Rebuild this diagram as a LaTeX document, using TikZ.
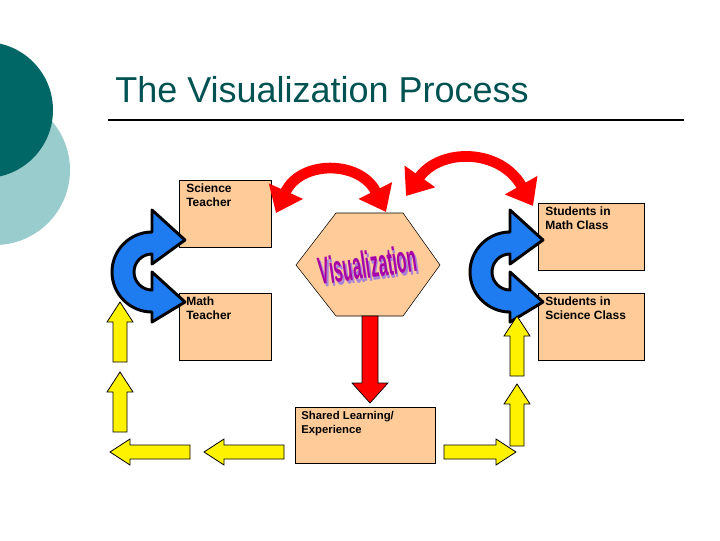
\documentclass[tikz,border=0pt]{standalone}
\usepackage{fontspec}
\setmainfont{Liberation Sans}
\usetikzlibrary{shapes.geometric,arrows.meta}
\definecolor{teal1}{HTML}{006666}
\definecolor{teal2}{HTML}{99CCCC}
\definecolor{boxc}{HTML}{FFCC99}
\definecolor{blu}{HTML}{1E7BF0}
\begin{document}
\begin{tikzpicture}[x=0.75pt,y=-0.75pt,
 box/.style={draw=black,fill=boxc,inner sep=0pt},
 lbl/.style={anchor=north west,align=left,font=\bfseries\fontsize{9}{10.5}\selectfont,inner sep=0pt},
 redarr/.style={draw=red,line width=8pt,{Triangle[width=27pt,length=18pt,fill=red]}-{Triangle[width=27pt,length=18pt,fill=red]}},
 bluearr/.style={draw=black,line width=2.2pt,fill=blu,line join=round},
 yar/.pic={\draw[fill=yellow,line width=0.6pt] (0,-7) -- (#1-20,-7) -- (#1-20,-13) -- (#1,0) -- (#1-20,13) -- (#1-20,7) -- (0,7) -- cycle;}]
\useasboundingbox (0,0) rectangle (720,540);
\fill[teal2] (-5,170) circle (75);
\fill[teal1] (-15,110) circle (68);
\node[anchor=west,font=\fontsize{27}{32}\selectfont,text=teal1!80!black,inner sep=0pt] (title) at (115,90) {The Visualization Process};
\draw[line width=1pt] (108,120) coordinate (l1) -- (684,120) coordinate (l2);
% boxes
\draw[box] (179,180) rectangle (271,247); \node[lbl] (st) at (186,184) {Science\\Teacher};
\draw[box] (179,293) rectangle (271,360); \node[lbl] (mt) at (186,297) {Math\\Teacher};
\draw[box] (538,203) rectangle (644,270); \node[lbl] (sm) at (545,207) {Students in\\Math Class};
\draw[box] (538,293) rectangle (644,360); \node[lbl] (ss) at (545,297) {Students in\\Science Class};
\draw[box] (295,407) rectangle (435,463); \node[lbl,font=\bfseries\fontsize{8.5}{10.5}\selectfont] (sl) at (301,411) {Shared Learning/\\Experience};
% hexagon
\draw[fill=boxc] (296,265) -- (336,213) -- (403,213) -- (440,265) -- (403,316) -- (336,316) -- cycle;
\node[rotate=8,font=\bfseries\fontsize{22}{24}\selectfont] (vis) at (368,266) {\scalebox{0.55}[1.3]{\rlap{\kern1.5pt\raisebox{-2pt}{\color{blue!40!violet!50}Visualization}}\color{violet!70!magenta}Visualization}};
% red down arrow
\filldraw[fill=red,draw=black,line width=0.5pt] (362,316) -- (378,316) -- (378,383) -- (388,383) -- (370,403) -- (352,383) -- (362,383) -- cycle;
% red curved
\draw[redarr] (276,213) .. controls (300,160) and (360,160) .. (386,212);
\draw[redarr] (406,196) .. controls (440,148) and (500,148) .. (533,206);
% blue C arrows
\foreach \dx in {0,358}{
\begin{scope}[xshift=\dx*0.75pt]
\draw[bluearr] (152,232) arc[start angle=90,end angle=270,radius=30pt] -- (152,322) -- (185,302) -- (152,272) -- (152,290)
  arc[start angle=270,end angle=90,radius=13.5pt] -- (152,264) -- (185,240) -- (152,210) -- cycle;
\end{scope}}
% yellow arrows
\pic[rotate=90] (y1) at (120,362) {yar=60};
\pic[rotate=90] (y2) at (120,432) {yar=60};
\pic[rotate=180] (y3) at (190,452) {yar=80};
\pic[rotate=180] (y4) at (284,452) {yar=80};
\pic (y5) at (444,452) {yar=72};
\pic[rotate=90] (y6) at (517,446) {yar=62};
\pic[rotate=90] (y7) at (517,376) {yar=60};
\end{tikzpicture}
\end{document}
